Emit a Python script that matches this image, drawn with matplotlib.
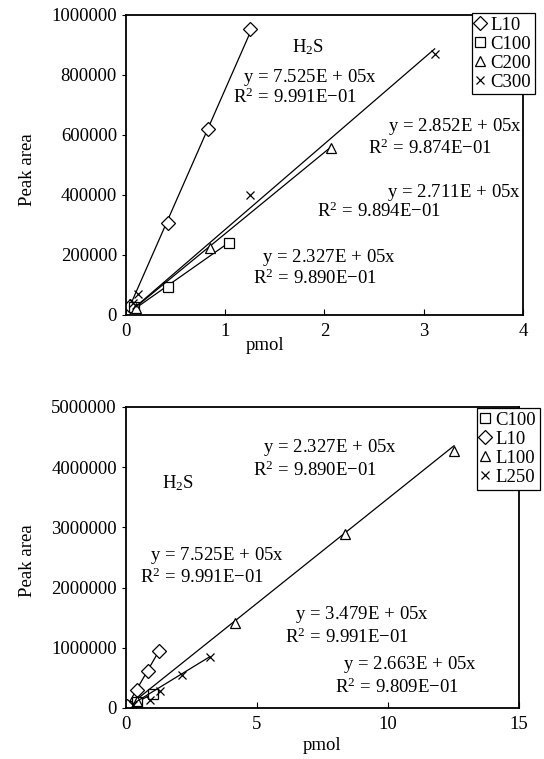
import matplotlib
matplotlib.use("Agg")
import matplotlib.pyplot as plt
import numpy as np

plt.rcParams['font.family'] = ['Liberation Serif', 'DejaVu Serif']
plt.rcParams['mathtext.fontset'] = 'custom'
plt.rcParams['mathtext.rm'] = 'Liberation Serif'
plt.rcParams['mathtext.it'] = 'Liberation Serif:italic'
plt.rcParams['font.size'] = 13.5

# ---- top panel data ----
top_names = ['L10', 'C100', 'C200', 'C300']
top_markers = ['D', 's', '^', 'x']
l10_x = [0.04, 0.42, 0.83, 1.25]
l10_y = [30000, 307000, 620000, 953000]
c100_x = [0.08, 0.42, 1.04]
c100_y = [25000, 93000, 240000]
c200_x = [0.10, 0.85, 2.07]
c200_y = [22000, 223000, 557000]
c300_x = [0.07, 0.12, 1.25, 3.11]
c300_y = [40000, 70000, 400000, 870000]
top_slopes = [7.525e5, 2.327e5, 2.711e5, 2.852e5]

# ---- bottom panel data ----
bot_names = ['C100', 'L10', 'L100', 'L250']
bot_markers = ['s', 'D', '^', 'x']
l100_x = [0.42, 4.16, 8.36, 12.52]
l100_y = [120000, 1420000, 2890000, 4270000]
l250_x = [0.25, 0.92, 1.30, 2.14, 3.20]
l250_y = [50000, 130000, 280000, 550000, 850000]
bot_slopes = [2.327e5, 7.525e5, 3.479e5, 2.663e5]

top_series = [(l10_x, l10_y), (c100_x, c100_y), (c200_x, c200_y), (c300_x, c300_y)]
bot_series = [(c100_x, c100_y), (l10_x, l10_y), (l100_x, l100_y), (l250_x, l250_y)]

msize = {'D': 7, 's': 7, '^': 7, 'x': 6}


def eq(a):
    return 'y$\\,=\\,$' + a.replace('E+', 'E$\\,+\\,$') + 'x'


def r2(a):
    return 'R$^2$$\\,=\\,$' + a.replace('-', '\u2212')


# equation labels (text, x, y in axes fraction)
top_labels = [
    ('H$_2$S', 0.418, 0.893),
    (eq('7.525E+05'), 0.295, 0.790),
    (r2('9.991E-01'), 0.2695, 0.727),
    (eq('2.852E+05'), 0.660, 0.627),
    (r2('9.874E-01'), 0.610, 0.557),
    (eq('2.711E+05'), 0.657, 0.407),
    (r2('9.894E-01'), 0.481, 0.347),
    (eq('2.327E+05'), 0.343, 0.190),
    (r2('9.890E-01'), 0.320, 0.123),
]
bot_labels = [
    (eq('2.327E+05'), 0.349, 0.864),
    (r2('9.890E-01'), 0.323, 0.791),
    ('H$_2$S', 0.092, 0.748),
    (eq('7.525E+05'), 0.061, 0.508),
    (r2('9.991E-01'), 0.036, 0.435),
    (eq('3.479E+05'), 0.430, 0.309),
    (r2('9.991E-01'), 0.405, 0.236),
    (eq('2.663E+05'), 0.552, 0.143),
    (r2('9.809E-01'), 0.532, 0.070),
]

fig = plt.figure(figsize=(5.44, 7.59), dpi=100)
ax1 = fig.add_axes([0.2316, 0.585, 0.7298, 0.3953])
ax2 = fig.add_axes([0.2316, 0.0672, 0.7224, 0.3966])


def draw(ax, series, names, markers, slopes, labels):
    for (x, y), name, m, k in zip(series, names, markers, slopes):
        xs = np.array([min(x), max(x)])
        ax.plot(xs, k * xs, color='black', lw=0.9)
        ax.plot(x, y, linestyle='none', marker=m, markersize=msize[m],
                mfc='white' if m != 'x' else 'black', mec='black', mew=0.9, label=name)
    for txt, tx, ty in labels:
        ax.text(tx, ty, txt, transform=ax.transAxes, ha='left', va='center', fontsize=13.5)
    for s in ax.spines.values():
        s.set_linewidth(1.3)
    ax.tick_params(axis='x', direction='in', length=4, top=False, pad=6)
    ax.tick_params(axis='y', direction='out', length=3, right=False)
    ax.set_ylabel('Peak area')


draw(ax1, top_series, top_names, top_markers, top_slopes, top_labels)
ax1.set_xlim(0, 4)
ax1.set_ylim(0, 1000000)
ax1.set_xticks([0, 1, 2, 3, 4])
ax1.set_yticks([0, 200000, 400000, 600000, 800000, 1000000])
ax1.set_xlabel('pmol')
ax1.xaxis.set_label_coords(0.35, -0.075)
ax1.yaxis.set_label_coords(-0.227, 0.483)
leg1 = ax1.legend(loc='upper right', bbox_to_anchor=(1.030, 1.007), fancybox=False,
                  edgecolor='black', framealpha=1, handlelength=0.5, handletextpad=0.3,
                  labelspacing=0.1, borderpad=0.2, borderaxespad=0, fontsize=13.5)
leg1.get_frame().set_linewidth(0.9)

draw(ax2, bot_series, bot_names, bot_markers, bot_slopes, bot_labels)
ax2.set_xlim(0, 15)
ax2.set_ylim(0, 5000000)
ax2.set_xticks([0, 5, 10, 15])
ax2.set_yticks([0, 1000000, 2000000, 3000000, 4000000, 5000000])
ax2.set_xlabel('pmol')
ax2.xaxis.set_label_coords(0.499, -0.097)
ax2.yaxis.set_label_coords(-0.229, 0.49)
leg2 = ax2.legend(loc='upper right', bbox_to_anchor=(1.053, 0.997), fancybox=False,
                  edgecolor='black', framealpha=1, handlelength=0.5, handletextpad=0.3,
                  labelspacing=0.1, borderpad=0.2, borderaxespad=0, fontsize=13.5)
leg2.get_frame().set_linewidth(0.9)

for ax in (ax1, ax2):
    ax.ticklabel_format(axis='y', style='plain', useOffset=False)

fig.savefig('out.png', dpi=100)
